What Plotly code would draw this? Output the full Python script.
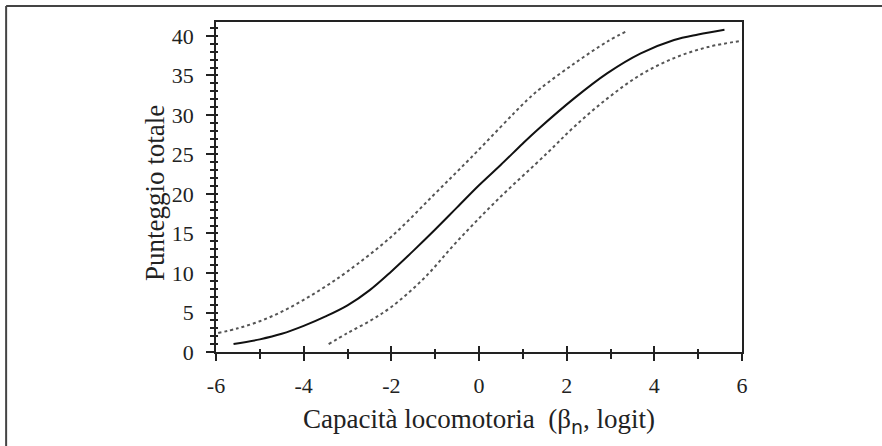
import plotly.graph_objects as go

# Solid curve (expected score)
solid_x = [-5.6, -5.0, -4.5, -4.0, -3.5, -3.0, -2.5, -2.0, -1.5, -1.0, -0.5, 0.0, 0.5, 1.0, 1.33, 2.17, 2.93, 3.69, 4.45, 5.0, 5.6]
solid_y = [1.0, 1.6, 2.3, 3.3, 4.5, 5.9, 7.8, 10.2, 12.8, 15.5, 18.3, 21.1, 23.7, 26.4, 28.1, 32.1, 35.3, 37.8, 39.5, 40.2, 40.8]

# Upper dotted band
upper_x = [-5.95, -5.5, -5.0, -4.5, -4.0, -3.5, -3.0, -2.0, -1.03, -0.2, 1.1, 1.41, 2.17, 2.93, 3.4]
upper_y = [2.4, 3.0, 3.9, 5.1, 6.6, 8.3, 10.2, 14.6, 19.9, 24.5, 31.9, 33.4, 36.5, 39.3, 40.7]

# Lower dotted band
lower_x = [-3.43, -3.0, -2.5, -2.0, -1.26, -0.5, 0.41, 1.56, 2.17, 2.93, 3.69, 4.45, 5.22, 6.0]
lower_y = [1.0, 2.4, 3.9, 5.7, 9.3, 14.0, 19.2, 25.2, 28.5, 32.1, 35.1, 37.2, 38.6, 39.4]

x_ticks = [-6, -4, -2, 0, 2, 4, 6]
x_labels = ["-6", "-4", "-2", "0", "2", "4", "6"]
y_ticks = [0, 5, 10, 15, 20, 25, 30, 35, 40]
y_labels = ["0", "5", "10", "15", "20", "25", "30", "35", "40"]

x_title = 'Capacità locomotoria  (β<sub><span style="font-family:DejaVu Sans">n</span></sub>, logit)'
y_title = "Punteggio totale"

FONT = "Liberation Serif"
INK = "#222"

fig = go.Figure()
fig.add_trace(go.Scatter(x=upper_x, y=upper_y, mode="lines", line=dict(color="#555", width=2, dash="dot", shape="spline"), showlegend=False))
fig.add_trace(go.Scatter(x=lower_x, y=lower_y, mode="lines", line=dict(color="#555", width=2, dash="dot", shape="spline"), showlegend=False))
fig.add_trace(go.Scatter(x=solid_x, y=solid_y, mode="lines", line=dict(color="#111", width=2, shape="spline"), showlegend=False))
fig.add_trace(go.Scatter(x=[None], y=[None], xaxis="x2", yaxis="y2", showlegend=False))

xr = [-6, 6]
yr = [0, 41.77]

fig.update_layout(
    width=882, height=446,
    margin=dict(l=216, r=140, t=22, b=94),
    paper_bgcolor="white", plot_bgcolor="white",
    font=dict(family=FONT, color=INK, size=22),
    xaxis=dict(range=xr, tickvals=x_ticks, ticktext=x_labels, ticks="outside", ticklen=7, tickwidth=1.5, tickcolor=INK,
               minor=dict(dtick=1, tick0=0, ticks="outside", ticklen=5, tickwidth=1.5, tickcolor=INK),
               showline=True, linecolor=INK, linewidth=1.5, mirror=True, showgrid=False, zeroline=False,
               tickfont=dict(size=22, family=FONT), ticklabelstandoff=6,
               title=dict(text=x_title, font=dict(size=27, family=FONT), standoff=12)),
    yaxis=dict(range=yr, tickvals=y_ticks, ticktext=y_labels, ticks="outside", ticklen=8, tickwidth=1.5, tickcolor=INK,
               minor=dict(dtick=1, tick0=0, ticks="outside", ticklen=4, tickwidth=1.5, tickcolor=INK),
               showline=True, linecolor=INK, linewidth=1.5, mirror=True, showgrid=False, zeroline=False,
               tickfont=dict(size=22, family=FONT), ticklabelstandoff=8),
    xaxis2=dict(overlaying="x", range=xr, tickvals=x_ticks, ticks="inside", ticklen=6, tickwidth=1.5, tickcolor=INK,
                minor=dict(dtick=1, tick0=0, ticks="inside", ticklen=3, tickwidth=1.5, tickcolor=INK),
                showticklabels=False, showline=False, showgrid=False, zeroline=False, side="bottom"),
    yaxis2=dict(overlaying="y", range=yr, tickvals=y_ticks, ticks="inside", ticklen=2, tickwidth=1.5, tickcolor=INK,
                minor=dict(dtick=1, tick0=0, ticks="inside", ticklen=2, tickwidth=1.5, tickcolor=INK),
                showticklabels=False, showline=False, showgrid=False, zeroline=False, side="left"),
    annotations=[
        dict(text=y_title, textangle=-90, xref="paper", yref="paper", x=-0.116, y=0.482,
             xanchor="center", yanchor="middle", showarrow=False, font=dict(size=27, family=FONT, color=INK)),
    ],
    shapes=[
        dict(type="line", xref="paper", yref="paper", x0=-0.399, x1=-0.399, y0=-0.4, y1=1.0485,
             line=dict(color="#444", width=2)),
        dict(type="line", xref="paper", yref="paper", x0=-0.399, x1=1.4, y0=1.0485, y1=1.0485,
             line=dict(color="#444", width=2)),
    ],
)

fig.write_html("out.html")
